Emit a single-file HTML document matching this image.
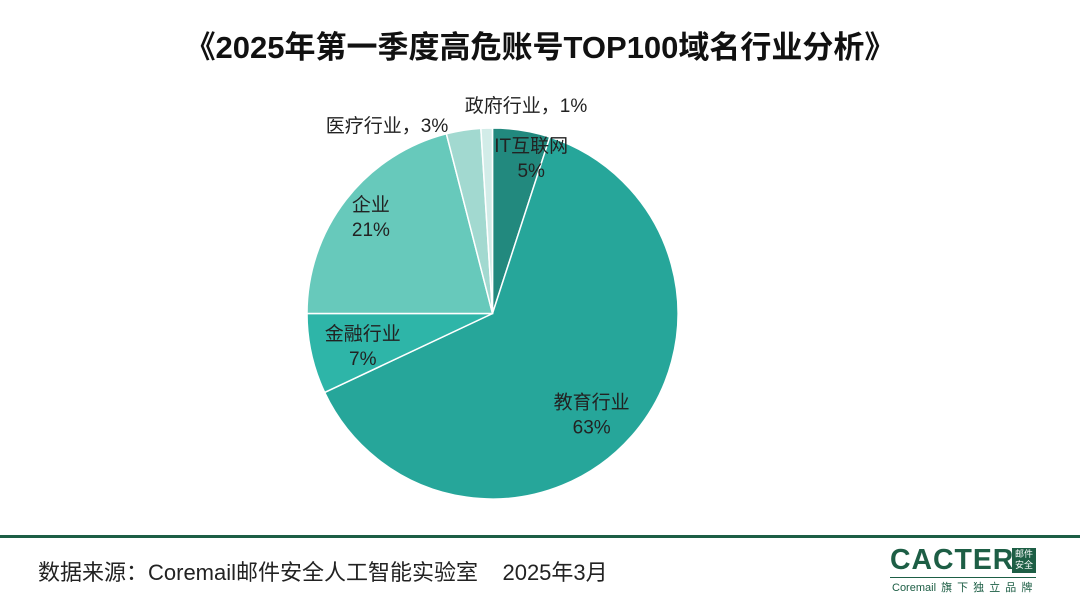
<!DOCTYPE html>
<html><head><meta charset="utf-8"><style>
body{margin:0;width:1080px;height:608px;background:#fff;overflow:hidden;font-family:"Liberation Sans","Noto Sans CJK SC",sans-serif;position:relative}
.t{position:absolute;left:0;width:1080px;top:22px;text-align:center;font-size:31px;font-weight:bold;color:#111}
.src{position:absolute;left:38px;top:555px;font-size:22px;color:#222;white-space:nowrap}
.line{position:absolute;left:0;top:535px;width:1080px;height:3px;background:#1d5e45}
</style></head><body>
<div class="t">《2025年第一季度高危账号TOP100域名行业分析》</div>
<svg id="pie" width="1080" height="608" style="position:absolute;left:0;top:0"></svg>
<div class="line"></div>
<div class="src">数据来源：Coremail邮件安全人工智能实验室&nbsp;&nbsp;&nbsp;&nbsp;2025年3月</div>
<div style="position:absolute;left:890px;top:544px;width:150px;height:50px">
<div style="position:absolute;left:0;top:0;font-size:29px;font-weight:bold;color:#1d5e45;line-height:32px;letter-spacing:1px;transform:scaleX(0.98);transform-origin:left">CACTER</div>
<div style="position:absolute;left:122px;top:4px;width:24px;height:24px;background:#1d5e45;color:#fff;font-size:9px;line-height:11px;text-align:center;padding-top:1px">邮件<br>安全</div>
<div style="position:absolute;left:0;top:33px;width:146px;height:1px;background:#1d5e45"></div>
<div style="position:absolute;left:2px;top:35px;font-size:11px;color:#1d5e45;white-space:nowrap;word-spacing:2px">Coremail 旗 下 独 立 品 牌</div>
</div>
<script>
const categories=["IT互联网","教育行业","金融行业","企业","医疗行业","政府行业"];
const values=[5,63,7,21,3,1];
const colors=["#22897e","#26a69a","#2eb5a8","#67c9bb","#a2d9d0","#d2ece8"];
const cx=492.5,cy=313.5,r=185.5;
const svg=document.getElementById('pie');
const NS="http://www.w3.org/2000/svg";
const total=values.reduce((a,b)=>a+b,0);
function pt(a,rr){return [cx+rr*Math.sin(a),cy-rr*Math.cos(a)];}
let a0=0;
const mids=[];
values.forEach((v,i)=>{
  const a1=a0+v/total*2*Math.PI;
  const p0=pt(a0,r),p1=pt(a1,r);
  const large=(a1-a0)>Math.PI?1:0;
  const p=document.createElementNS(NS,'path');
  p.setAttribute('d',`M${cx},${cy}L${p0[0]},${p0[1]}A${r},${r} 0 ${large} 1 ${p1[0]},${p1[1]}Z`);
  p.setAttribute('fill',colors[i]);p.setAttribute('stroke','#fff');p.setAttribute('stroke-width','1.5');
  
  
  svg.appendChild(p);
  mids.push((a0+a1)/2);
  a0=a1;
});
function txt(x,y,s,name){
  const t=document.createElementNS(NS,'text');
  t.setAttribute('x',x);t.setAttribute('y',y);t.setAttribute('text-anchor','middle');
  t.setAttribute('font-size','19');t.setAttribute('fill','#222');
  t.setAttribute('font-family','"Liberation Sans","Noto Sans CJK SC",sans-serif');
  t.textContent=s;
  
  
  svg.appendChild(t);
}
// label layout: radius fraction and angle nudge (radians) per inside slice
const inside=[0,1,2,3];
const rad=[0.87,0.76,0.72,0.84];
const nudge=[0.085,0.068,-0.02,0.016];
inside.forEach((i,k)=>{
  const p=pt(mids[i]+nudge[k],r*rad[k]);
  txt(p[0],p[1]-5,categories[i],'label-'+i);
  txt(p[0],p[1]+20,values[i]+'%','value-'+i);
});
txt(387,132,categories[4]+'，'+values[4]+'%','label-4');
txt(526,112,categories[5]+'，'+values[5]+'%','label-5');
</script>
</body></html>
